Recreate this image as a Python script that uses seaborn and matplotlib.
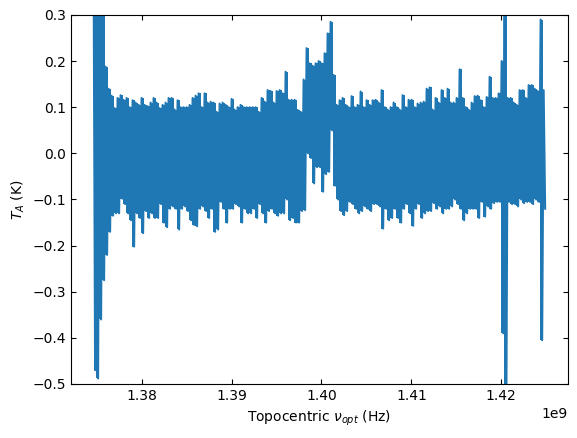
import numpy as np
import pandas as pd
import matplotlib
matplotlib.use("Agg")
import matplotlib.pyplot as plt
import seaborn as sns

# Spectrum: frequency span (Hz) and the noise envelope.
freq_start_hz = 1.37465e9
freq_stop_hz = 1.42488e9

# upper excursions of the spectrum (K), channel by channel
upper_K = [
    0.42, 0.40, 0.38, 0.31, 0.188, 0.14, 0.125, 0.098, 0.12, 0.126, 0.116, 0.12,
    0.10, 0.115, 0.11, 0.105, 0.12, 0.105, 0.102, 0.11, 0.12, 0.11, 0.098, 0.105,
    0.11, 0.12, 0.12, 0.095, 0.115, 0.10, 0.10, 0.10, 0.105, 0.12, 0.125, 0.13,
    0.10, 0.13, 0.11, 0.112, 0.11, 0.09, 0.108, 0.11, 0.105, 0.10, 0.118, 0.095,
    0.10, 0.105, 0.10,
    0.10, 0.10, 0.10, 0.10, 0.09, 0.12, 0.112, 0.137, 0.135, 0.11, 0.135, 0.137,
    0.13, 0.177, 0.116, 0.116, 0.116, 0.094, 0.09, 0.16, 0.228, 0.195, 0.19, 0.195,
    0.20, 0.195, 0.217, 0.26, 0.285, 0.17, 0.105, 0.115, 0.12, 0.105, 0.10, 0.124,
    0.10, 0.105, 0.134, 0.10, 0.115, 0.105, 0.115, 0.116, 0.11, 0.137, 0.10, 0.095,
    0.10, 0.11, 0.10,
    0.095, 0.126, 0.10, 0.116, 0.116, 0.10, 0.108, 0.11, 0.112, 0.14, 0.143, 0.095,
    0.12, 0.11, 0.137, 0.12, 0.14, 0.11, 0.11, 0.12, 0.182, 0.12, 0.10, 0.095,
    0.11, 0.124, 0.125, 0.115, 0.10, 0.122, 0.166, 0.12, 0.12, 0.13, 0.20, 0.45,
    0.12, 0.12, 0.11, 0.105, 0.137, 0.137, 0.12, 0.148, 0.148, 0.14, 0.135, 0.29,
    0.137,
]

# lower excursions of the spectrum (K), channel by channel
lower_K = [
    -0.47, -0.488, -0.36, -0.275, -0.22, -0.17, -0.135, -0.13, -0.13, -0.098, -0.11, -0.13,
    -0.145, -0.202, -0.13, -0.14, -0.173, -0.125, -0.14, -0.13, -0.14, -0.14, -0.11, -0.15,
    -0.16, -0.12, -0.115, -0.12, -0.165, -0.12, -0.115, -0.125, -0.145, -0.155, -0.158, -0.12,
    -0.115, -0.125, -0.14, -0.12, -0.17, -0.165, -0.105, -0.12, -0.15, -0.12, -0.12, -0.11,
    -0.115, -0.15, -0.12,
    -0.13, -0.13, -0.12, -0.14, -0.11, -0.13, -0.15, -0.125, -0.12, -0.13, -0.135, -0.13,
    -0.13, -0.10, -0.145, -0.14, -0.15, -0.15, -0.125, -0.123, 0.0, -0.01, -0.065, -0.03,
    -0.03, -0.083, -0.045, -0.04, 0.05, -0.07, -0.10, -0.125, -0.134, -0.125, -0.105, -0.11,
    -0.12, -0.13, -0.125, -0.115, -0.12, -0.125, -0.11, -0.11, -0.115, -0.163, -0.12, -0.145,
    -0.14, -0.12, -0.14,
    -0.15, -0.12, -0.11, -0.13, -0.157, -0.12, -0.11, -0.14, -0.13, -0.125, -0.125, -0.108,
    -0.12, -0.115, -0.13, -0.12, -0.12, -0.115, -0.10, -0.11, -0.12, -0.145, -0.13, -0.12,
    -0.12, -0.12, -0.14, -0.105, -0.137, -0.115, -0.12, -0.108, -0.105, -0.105, -0.39, -0.65,
    -0.105, -0.11, -0.11, -0.115, -0.10, -0.108, -0.105, -0.105, -0.11, -0.10, -0.105, -0.405,
    -0.12,
]

upper = np.array(upper_K)
lower = np.array(lower_K)
n = len(upper)
freq = np.linspace(freq_start_hz, freq_stop_hz, 2 * n)
ta = np.empty(2 * n)
ta[0::2] = upper
ta[1::2] = lower
df = pd.DataFrame({"freq": freq, "ta": ta})

color = "#1f77b4"
fig = plt.figure(figsize=(5.77, 4.38), dpi=100)
ax = fig.add_axes([0.1231, 0.1233, 0.8608, 0.8425])

# solid interior of the dense noise band (one bar per channel pair)
chan_mid = 0.5 * (freq[0::2] + freq[1::2])
ax.fill_between(chan_mid, upper, lower, step="mid", color=color, lw=0)
sns.lineplot(data=df, x="freq", y="ta", ax=ax, color=color, linewidth=1.5,
             estimator=None, sort=False)

ax.set_xlim(1.37214e9, 1.42739e9)
ax.set_ylim(-0.5, 0.3)
ax.set_xlabel(r"Topocentric $\nu_{opt}$ (Hz)")
ax.set_ylabel(r"$T_A$ (K)")
ax.tick_params(direction="in", top=True, right=True)

fig.savefig("out.png", dpi=100)
